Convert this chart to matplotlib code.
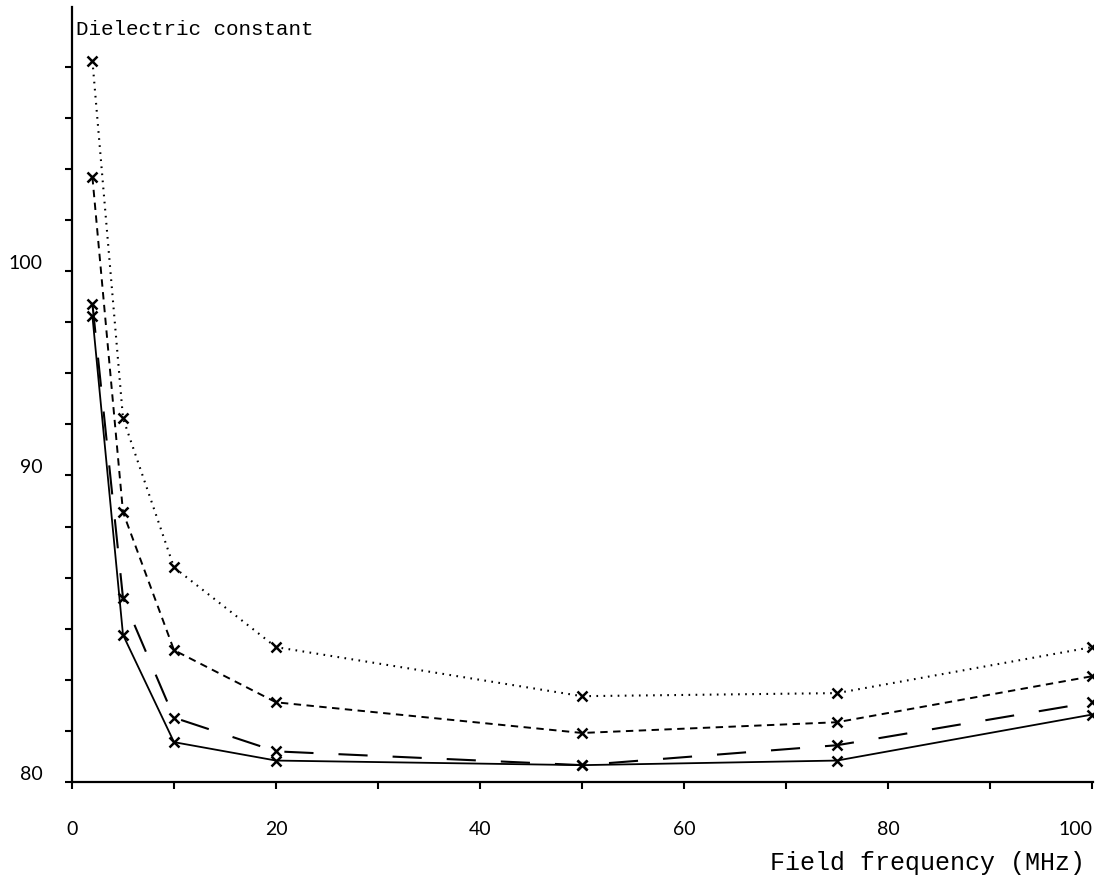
import numpy as np
import matplotlib
matplotlib.use("Agg")
import matplotlib.pyplot as plt

# frequency (MHz)
freq = [2, 5, 10, 20, 50, 75, 100]

# dielectric constant, four curves
eps_dotted = [110.3, 92.8, 87.0, 84.4, 82.8, 82.9, 84.4]
eps_short = [104.6, 88.8, 84.3, 82.6, 81.6, 81.95, 83.45]
eps_long = [98.4, 86.0, 82.1, 81.0, 80.55, 81.2, 82.6]
eps_solid = [97.8, 84.8, 81.3, 80.7, 80.55, 80.7, 82.2]

y_labels = [80, 90, 100]


# the original axis is hand-drawn: 80-90 is stretched more than 90-100
def fwd(v):
    v = np.asarray(v, dtype=float)
    return np.where(v <= 90, (v - 80) * 0.6, 6 + (v - 90) * 0.4)


def inv(u):
    u = np.asarray(u, dtype=float)
    return np.where(u <= 6, 80 + u / 0.6, 90 + (u - 6) / 0.4)


fig = plt.figure(figsize=(10.96, 8.79), dpi=100)
ax = fig.add_axes([0.0657, 0.1092, 0.9316, 0.8818])
ax.set_yscale("function", functions=(fwd, inv))

mk = dict(marker="x", color="black", markersize=7, markeredgewidth=1.8)
ax.plot(freq, eps_dotted, linestyle=(0, (0.8, 2.6)), lw=1.5, **mk)
ax.plot(freq, eps_short, linestyle=(0, (3.8, 2.8)), lw=1.4, **mk)
ax.plot(freq, eps_long, linestyle=(0, (14, 12)), lw=1.5, **mk)
ax.plot(freq, eps_solid, linestyle="-", lw=1.3, **mk)

ax.set_xlim(0, 100.1)
ax.set_ylim(80, float(inv(15.17)))

for s in ["top", "right"]:
    ax.spines[s].set_visible(False)
for s in ["left", "bottom"]:
    ax.spines[s].set_linewidth(1.6)

tick_font = dict(family="Lato", size=14)
ax.set_xticks(np.arange(0, 101, 10))
ax.set_xticklabels([str(v) if v % 20 == 0 else "" for v in range(0, 101, 10)], **tick_font)
ax.get_xticklabels()[-1].set_ha("right")
ax.set_yticks(y_labels)
ax.set_yticklabels([str(v) for v in y_labels], va="bottom", **tick_font)
minor_u = [u for u in range(1, 15) if u not in (6, 10)]
ax.set_yticks(inv(minor_u), minor=True)
ax.yaxis.set_minor_formatter(plt.NullFormatter())
ax.xaxis.set_minor_locator(plt.NullLocator())

ax.tick_params(axis="x", which="both", direction="out", length=5, width=1.5, pad=22)
ax.tick_params(axis="y", which="both", direction="out", length=5, width=1.5, pad=16)

ax.text(0.004, 0.985, "Dielectric constant", transform=ax.transAxes,
        family="Liberation Mono", fontsize=15, va="top", ha="left")
fig.text(0.99, 0.004, "Field frequency (MHz)", family="Liberation Mono",
         fontsize=18, ha="right", va="bottom")

fig.savefig("out.png", dpi=100)
